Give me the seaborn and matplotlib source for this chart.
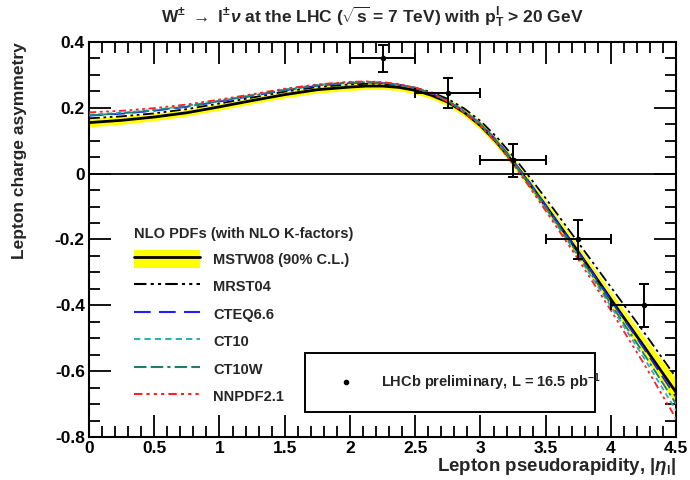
import numpy as np
import pandas as pd
import seaborn as sns
import matplotlib.pyplot as plt
from matplotlib.lines import Line2D
from matplotlib.patches import Patch
from matplotlib.ticker import MultipleLocator, FuncFormatter

# lepton pseudorapidity grid for the theory curves
eta_grid = [0.0, 0.25, 0.5, 0.75, 1.0, 1.25, 1.5, 1.75, 2.0, 2.125, 2.25, 2.375,
            2.5, 2.625, 2.75, 2.875, 3.0, 3.125, 3.25, 3.375, 3.5, 3.75, 4.0, 4.25, 4.5]

mstw08 = [0.155, 0.162, 0.172, 0.185, 0.203, 0.222, 0.240, 0.255, 0.263, 0.266, 0.266, 0.262,
          0.253, 0.238, 0.217, 0.186, 0.146, 0.095, 0.035, -0.030, -0.098, -0.238, -0.382, -0.523, -0.665]
mstw08_lo = [0.142, 0.150, 0.161, 0.175, 0.193, 0.212, 0.230, 0.245, 0.253, 0.256, 0.256, 0.252,
             0.242, 0.227, 0.205, 0.174, 0.133, 0.082, 0.021, -0.045, -0.114, -0.256, -0.404, -0.551, -0.705]
mstw08_hi = [0.168, 0.174, 0.183, 0.195, 0.213, 0.232, 0.250, 0.265, 0.273, 0.276, 0.276, 0.272,
             0.264, 0.249, 0.229, 0.198, 0.159, 0.108, 0.049, -0.015, -0.082, -0.220, -0.360, -0.495, -0.625]
mrst04 = [0.168, 0.174, 0.183, 0.196, 0.213, 0.231, 0.249, 0.263, 0.271, 0.273, 0.273, 0.269,
          0.261, 0.247, 0.227, 0.198, 0.160, 0.111, 0.053, -0.010, -0.075, -0.210, -0.345, -0.480, -0.620]
cteq66 = [0.176, 0.182, 0.191, 0.203, 0.219, 0.236, 0.253, 0.267, 0.275, 0.277, 0.275, 0.270,
          0.260, 0.244, 0.221, 0.190, 0.152, 0.101, 0.040, -0.026, -0.096, -0.238, -0.385, -0.530, -0.680]
ct10 = [0.179, 0.185, 0.194, 0.206, 0.222, 0.239, 0.256, 0.270, 0.278, 0.279, 0.277, 0.271,
        0.261, 0.244, 0.220, 0.188, 0.149, 0.097, 0.034, -0.034, -0.106, -0.252, -0.404, -0.558, -0.720]
ct10w = [0.177, 0.183, 0.192, 0.204, 0.220, 0.237, 0.254, 0.268, 0.276, 0.278, 0.276, 0.270,
         0.260, 0.244, 0.220, 0.189, 0.150, 0.099, 0.037, -0.030, -0.101, -0.246, -0.396, -0.546, -0.700]
nnpdf21 = [0.186, 0.191, 0.199, 0.210, 0.225, 0.241, 0.258, 0.271, 0.279, 0.280, 0.278, 0.272,
           0.261, 0.243, 0.218, 0.185, 0.145, 0.092, 0.029, -0.040, -0.113, -0.261, -0.416, -0.576, -0.745]

# LHCb preliminary data
lhcb_eta = [2.25, 2.75, 3.25, 3.75, 4.25]
lhcb_eta_err = [0.25, 0.25, 0.25, 0.25, 0.25]
lhcb_asym = [0.350, 0.245, 0.040, -0.200, -0.400]
lhcb_asym_err = [0.040, 0.045, 0.050, 0.060, 0.065]

sns.set_theme(style="ticks")
plt.rcParams['font.family'] = ['Liberation Sans', 'DejaVu Sans']
plt.rcParams['font.weight'] = 'bold'
plt.rcParams['mathtext.fontset'] = 'custom'
plt.rcParams['mathtext.rm'] = 'Liberation Sans:bold'
plt.rcParams['mathtext.it'] = 'Liberation Sans:bold:italic'
plt.rcParams['mathtext.bf'] = 'Liberation Sans:bold'

fig = plt.figure(figsize=(6.9, 4.8), dpi=100)
ax = fig.add_axes([0.129, 0.0896, 0.851, 0.823])

df = pd.DataFrame({'eta': eta_grid, 'MSTW08': mstw08, 'lo': mstw08_lo, 'hi': mstw08_hi,
                   'MRST04': mrst04, 'CTEQ6.6': cteq66, 'CT10': ct10,
                   'CT10W': ct10w, 'NNPDF2.1': nnpdf21})

ax.fill_between(df['eta'], df['lo'], df['hi'], color='#ffff00', lw=0, zorder=1)
ax.axhline(0, color='black', lw=1.3, zorder=1)

styles = {
    'MRST04': ('black', (6, 2, 1.5, 2, 1.5, 2)),
    'CTEQ6.6': ('#2020ff', (8, 4)),
    'CT10': ('#30b0b0', (3, 2)),
    'CT10W': ('#1a7f70', (6, 2, 6, 2, 1.5, 2)),
    'NNPDF2.1': ('#ff2020', (4, 2, 1.5, 2, 1.5, 2, 1.5, 2)),
}
sns.lineplot(data=df, x='eta', y='MSTW08', ax=ax, color='black', lw=2, zorder=3)
for name, (col, dash) in styles.items():
    sns.lineplot(data=df, x='eta', y=name, ax=ax, color=col, lw=1.3, zorder=4)
    ax.lines[-1].set_dashes(dash)

ax.errorbar(lhcb_eta, lhcb_asym, xerr=lhcb_eta_err, yerr=lhcb_asym_err,
            fmt='o', ms=3, color='black', ecolor='black', elinewidth=1.4,
            capsize=3.5, capthick=1.4, zorder=6)

ax.set_xlim(0, 4.5)
ax.set_ylim(-0.8, 0.4)
ax.xaxis.set_major_locator(MultipleLocator(0.5))
ax.xaxis.set_minor_locator(MultipleLocator(0.1))
ax.yaxis.set_major_locator(MultipleLocator(0.2))
ax.yaxis.set_minor_locator(MultipleLocator(0.05))
fmt = FuncFormatter(lambda v, p: '%g' % round(v, 2))
ax.xaxis.set_major_formatter(fmt)
ax.yaxis.set_major_formatter(fmt)
ax.tick_params(which='both', direction='in', top=True, right=True, width=1.3,
               labelsize=12.5, colors='black')
ax.tick_params(which='major', length=16, pad=3)
ax.tick_params(which='minor', length=8)
for s in ax.spines.values():
    s.set_linewidth(1.5)
    s.set_color('black')

ax.set_xlabel(r'Lepton pseudorapidity, |$\eta_{\rm l}$|', fontsize=13.5,
              fontweight='bold', loc='right', labelpad=0)
ax.set_ylabel('Lepton charge asymmetry', fontsize=12.5, fontweight='bold', loc='top')
ax.yaxis.set_label_coords(-0.105, 1.0)

fig.text(0.54, 0.965, r'W$^{\pm}$ $\rightarrow$ l$^{\pm}$$\nu$ at the LHC ($\sqrt{\rm s}$ = 7 TeV) with p$_{\rm T}^{\rm l}$ > 20 GeV',
         ha='center', va='center', fontsize=12.5, fontweight='bold')

# PDF legend
handles = [(Patch(facecolor='#ffff00', edgecolor='none'), Line2D([], [], color='black', lw=2))]
labels = ['MSTW08 (90% C.L.)']
for name, (col, dash) in styles.items():
    handles.append(Line2D([], [], color=col, lw=1.5, dashes=dash))
    labels.append(name)
leg = ax.legend(handles, labels, title='NLO PDFs (with NLO K-factors)', loc='upper left',
                bbox_to_anchor=(0.055, 0.565), frameon=False, handlelength=4.5,
                handleheight=1.6, labelspacing=0.6, handletextpad=0.9,
                prop={'size': 10.5, 'weight': 'bold'}, alignment='left')
leg.get_title().set_fontsize(10.5)
leg.get_title().set_fontweight('bold')
ax.add_artist(leg)

# data legend
dh = Line2D([], [], marker='o', ms=3, color='black', lw=0)
leg2 = ax.legend([dh], [r'LHCb preliminary, L = 16.5 pb$^{-1}$'], loc='lower left',
                 bbox_to_anchor=(0.368, 0.063, 0.494, 0.124), mode='expand',
                 borderaxespad=0, fancybox=False, edgecolor='black', handlelength=3.0,
                 handletextpad=0.9, borderpad=1.3, prop={'size': 10.5})
leg2.get_frame().set_linewidth(1.4)
leg2.get_frame().set_alpha(1)

fig.savefig('out.png', dpi=100)
